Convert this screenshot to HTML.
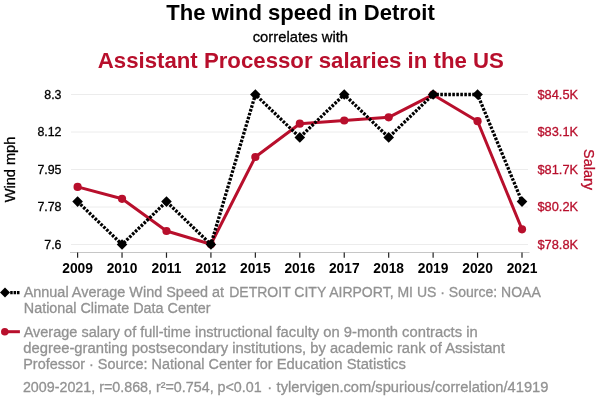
<!DOCTYPE html><html><head><meta charset="utf-8"><style>html,body{margin:0;padding:0;background:#fff;overflow:hidden;}svg{display:block;will-change:transform;} text{stroke-width:0.3px;}</style></head><body>
<svg width="600" height="408" viewBox="0 0 600 408" font-family="Liberation Sans, sans-serif">
<rect width="600" height="408" fill="#fff"/>
<text x="166.31" y="19.50" font-size="22" font-weight="bold" fill="#000" textLength="268.50" lengthAdjust="spacingAndGlyphs">The wind speed in Detroit</text>
<text x="252.73" y="41.60" font-size="14.6" fill="#000" stroke="#000" textLength="95.34" lengthAdjust="spacingAndGlyphs">correlates with</text>
<text x="97.81" y="67.70" font-size="22.3" font-weight="bold" fill="#b80f2c" textLength="406.02" lengthAdjust="spacingAndGlyphs">Assistant Processor salaries in the US</text>
<text x="23.81" y="312.70" font-size="14.7" fill="#929292" stroke="#929292" textLength="186.84" lengthAdjust="spacingAndGlyphs">National Climate Data Center</text>
<text x="23.66" y="296.70" font-size="14.7" fill="#929292" stroke="#929292" textLength="200.38" lengthAdjust="spacingAndGlyphs">Annual Average Wind Speed at</text>
<text x="229.18" y="296.70" font-size="14.7" fill="#929292" stroke="#929292" textLength="311.63" lengthAdjust="spacingAndGlyphs">DETROIT CITY AIRPORT, MI US · Source: NOAA</text>
<text x="23.66" y="336.70" font-size="14.7" fill="#929292" stroke="#929292" textLength="248.62" lengthAdjust="spacingAndGlyphs">Average salary of full-time instructional</text>
<text x="276.50" y="336.70" font-size="14.7" fill="#929292" stroke="#929292" textLength="201.14" lengthAdjust="spacingAndGlyphs">faculty on 9-month contracts in</text>
<text x="23.34" y="352.80" font-size="14.7" fill="#929292" stroke="#929292" textLength="282.84" lengthAdjust="spacingAndGlyphs">degree-granting postsecondary institutions,</text>
<text x="310.34" y="352.80" font-size="14.7" fill="#929292" stroke="#929292" textLength="194.44" lengthAdjust="spacingAndGlyphs">by academic rank of Assistant</text>
<text x="23.26" y="369.00" font-size="14.7" fill="#929292" stroke="#929292" textLength="249.41" lengthAdjust="spacingAndGlyphs">Professor · Source: National Center for</text>
<text x="276.72" y="369.00" font-size="14.7" fill="#929292" stroke="#929292" textLength="129.15" lengthAdjust="spacingAndGlyphs">Education Statistics</text>
<text x="22.88" y="392.10" font-size="14.7" fill="#929292" stroke="#929292" textLength="238.83" lengthAdjust="spacingAndGlyphs">2009-2021, r=0.868, r²=0.754, p&lt;0.01</text>
<text x="267.30" y="392.10" font-size="14.7" fill="#929292" stroke="#929292">·</text>
<text x="276.58" y="392.10" font-size="14.7" fill="#929292" stroke="#929292" textLength="271.87" lengthAdjust="spacingAndGlyphs">tylervigen.com/spurious/correlation/41919</text>
<text x="77.6" y="272.7" text-anchor="middle" font-weight="bold" font-size="13.8" fill="#000">2009</text>
<text x="122.04" y="272.7" text-anchor="middle" font-weight="bold" font-size="13.8" fill="#000">2010</text>
<text x="166.48" y="272.7" text-anchor="middle" font-weight="bold" font-size="13.8" fill="#000">2011</text>
<text x="210.92" y="272.7" text-anchor="middle" font-weight="bold" font-size="13.8" fill="#000">2012</text>
<text x="255.36" y="272.7" text-anchor="middle" font-weight="bold" font-size="13.8" fill="#000">2015</text>
<text x="299.8" y="272.7" text-anchor="middle" font-weight="bold" font-size="13.8" fill="#000">2016</text>
<text x="344.24" y="272.7" text-anchor="middle" font-weight="bold" font-size="13.8" fill="#000">2017</text>
<text x="388.68" y="272.7" text-anchor="middle" font-weight="bold" font-size="13.8" fill="#000">2018</text>
<text x="433.12" y="272.7" text-anchor="middle" font-weight="bold" font-size="13.8" fill="#000">2019</text>
<text x="477.56" y="272.7" text-anchor="middle" font-weight="bold" font-size="13.8" fill="#000">2020</text>
<text x="522.0" y="272.7" text-anchor="middle" font-weight="bold" font-size="13.8" fill="#000">2021</text>
<text x="61.5" y="98.8" text-anchor="end" font-size="12.4" fill="#000" stroke="#000">8.3</text>
<text x="61.5" y="136.3" text-anchor="end" font-size="12.4" fill="#000" stroke="#000">8.12</text>
<text x="61.5" y="173.8" text-anchor="end" font-size="12.4" fill="#000" stroke="#000">7.95</text>
<text x="61.5" y="211.3" text-anchor="end" font-size="12.4" fill="#000" stroke="#000">7.78</text>
<text x="61.5" y="248.8" text-anchor="end" font-size="12.4" fill="#000" stroke="#000">7.6</text>
<text x="537.5" y="98.8" font-size="12.8" fill="#b80f2c" stroke="#b80f2c">$84.5K</text>
<text x="537.5" y="136.3" font-size="12.8" fill="#b80f2c" stroke="#b80f2c">$83.1K</text>
<text x="537.5" y="173.8" font-size="12.8" fill="#b80f2c" stroke="#b80f2c">$81.7K</text>
<text x="537.5" y="211.3" font-size="12.8" fill="#b80f2c" stroke="#b80f2c">$80.2K</text>
<text x="537.5" y="248.8" font-size="12.8" fill="#b80f2c" stroke="#b80f2c">$78.8K</text>
<text transform="translate(15,169.5) rotate(-90)" text-anchor="middle" font-size="14.6" fill="#000" stroke="#000">Wind mph</text>
<text transform="translate(584,169.5) rotate(90)" text-anchor="middle" font-size="14.4" fill="#b80f2c" stroke="#b80f2c">Salary</text>
<line x1="71" x2="528" y1="94.5" y2="94.5" stroke="#ececec" stroke-width="1"/>
<line x1="71" x2="528" y1="132.0" y2="132.0" stroke="#ececec" stroke-width="1"/>
<line x1="71" x2="528" y1="169.5" y2="169.5" stroke="#ececec" stroke-width="1"/>
<line x1="71" x2="528" y1="207.0" y2="207.0" stroke="#ececec" stroke-width="1"/>
<line x1="71" x2="528" y1="244.5" y2="244.5" stroke="#ececec" stroke-width="1"/>
<line x1="70" x2="529.5" y1="252.5" y2="252.5" stroke="#c6c6c6" stroke-width="1"/>
<line x1="77.6" x2="77.6" y1="252.5" y2="257.8" stroke="#222" stroke-width="1.2"/>
<line x1="122.04" x2="122.04" y1="252.5" y2="257.8" stroke="#222" stroke-width="1.2"/>
<line x1="166.48" x2="166.48" y1="252.5" y2="257.8" stroke="#222" stroke-width="1.2"/>
<line x1="210.92" x2="210.92" y1="252.5" y2="257.8" stroke="#222" stroke-width="1.2"/>
<line x1="255.36" x2="255.36" y1="252.5" y2="257.8" stroke="#222" stroke-width="1.2"/>
<line x1="299.8" x2="299.8" y1="252.5" y2="257.8" stroke="#222" stroke-width="1.2"/>
<line x1="344.24" x2="344.24" y1="252.5" y2="257.8" stroke="#222" stroke-width="1.2"/>
<line x1="388.68" x2="388.68" y1="252.5" y2="257.8" stroke="#222" stroke-width="1.2"/>
<line x1="433.12" x2="433.12" y1="252.5" y2="257.8" stroke="#222" stroke-width="1.2"/>
<line x1="477.56" x2="477.56" y1="252.5" y2="257.8" stroke="#222" stroke-width="1.2"/>
<line x1="522.0" x2="522.0" y1="252.5" y2="257.8" stroke="#222" stroke-width="1.2"/>
<polyline points="77.6,186.9 122.04,198.8 166.48,231.0 210.92,244.2 255.36,157.0 299.8,123.7 344.24,120.5 388.68,117.3 433.12,94.7 477.56,121.2 522.0,229.3" fill="none" stroke="#b80f2c" stroke-width="3" stroke-linejoin="round"/>
<circle cx="77.6" cy="186.9" r="4.1" fill="#b80f2c"/>
<circle cx="122.04" cy="198.8" r="4.1" fill="#b80f2c"/>
<circle cx="166.48" cy="231.0" r="4.1" fill="#b80f2c"/>
<circle cx="210.92" cy="244.2" r="4.1" fill="#b80f2c"/>
<circle cx="255.36" cy="157.0" r="4.1" fill="#b80f2c"/>
<circle cx="299.8" cy="123.7" r="4.1" fill="#b80f2c"/>
<circle cx="344.24" cy="120.5" r="4.1" fill="#b80f2c"/>
<circle cx="388.68" cy="117.3" r="4.1" fill="#b80f2c"/>
<circle cx="433.12" cy="94.7" r="4.1" fill="#b80f2c"/>
<circle cx="477.56" cy="121.2" r="4.1" fill="#b80f2c"/>
<circle cx="522.0" cy="229.3" r="4.1" fill="#b80f2c"/>
<polyline points="77.6,201.6 122.04,244.5 166.48,201.6 210.92,244.5 255.36,94.5 299.8,137.4 344.24,94.5 388.68,137.4 433.12,94.5 477.56,94.5 522.0,201.6" fill="none" stroke="#000" stroke-width="3.3" stroke-dasharray="2.6 1.4"/>
<path d="M77.6 196.29999999999998 L82.89999999999999 201.6 L77.6 206.9 L72.3 201.6 Z" fill="#000"/>
<path d="M122.04 239.2 L127.34 244.5 L122.04 249.8 L116.74000000000001 244.5 Z" fill="#000"/>
<path d="M166.48 196.29999999999998 L171.78 201.6 L166.48 206.9 L161.17999999999998 201.6 Z" fill="#000"/>
<path d="M210.92 239.2 L216.22 244.5 L210.92 249.8 L205.61999999999998 244.5 Z" fill="#000"/>
<path d="M255.36 89.2 L260.66 94.5 L255.36 99.8 L250.06 94.5 Z" fill="#000"/>
<path d="M299.8 132.1 L305.1 137.4 L299.8 142.70000000000002 L294.5 137.4 Z" fill="#000"/>
<path d="M344.24 89.2 L349.54 94.5 L344.24 99.8 L338.94 94.5 Z" fill="#000"/>
<path d="M388.68 132.1 L393.98 137.4 L388.68 142.70000000000002 L383.38 137.4 Z" fill="#000"/>
<path d="M433.12 89.2 L438.42 94.5 L433.12 99.8 L427.82 94.5 Z" fill="#000"/>
<path d="M477.56 89.2 L482.86 94.5 L477.56 99.8 L472.26 94.5 Z" fill="#000"/>
<path d="M522.0 196.29999999999998 L527.3 201.6 L522.0 206.9 L516.7 201.6 Z" fill="#000"/>
<line x1="10.2" x2="19.9" y1="292.6" y2="292.6" stroke="#000" stroke-width="3.2" stroke-dasharray="2.5 0.9"/>
<path d="M5 287.6 L10 292.6 L5 297.6 L0 292.6 Z" fill="#000"/>
<line x1="5" x2="19.9" y1="331.7" y2="331.7" stroke="#b80f2c" stroke-width="3"/>
<circle cx="4.8" cy="331.7" r="3.8" fill="#b80f2c"/>
</svg></body></html>
